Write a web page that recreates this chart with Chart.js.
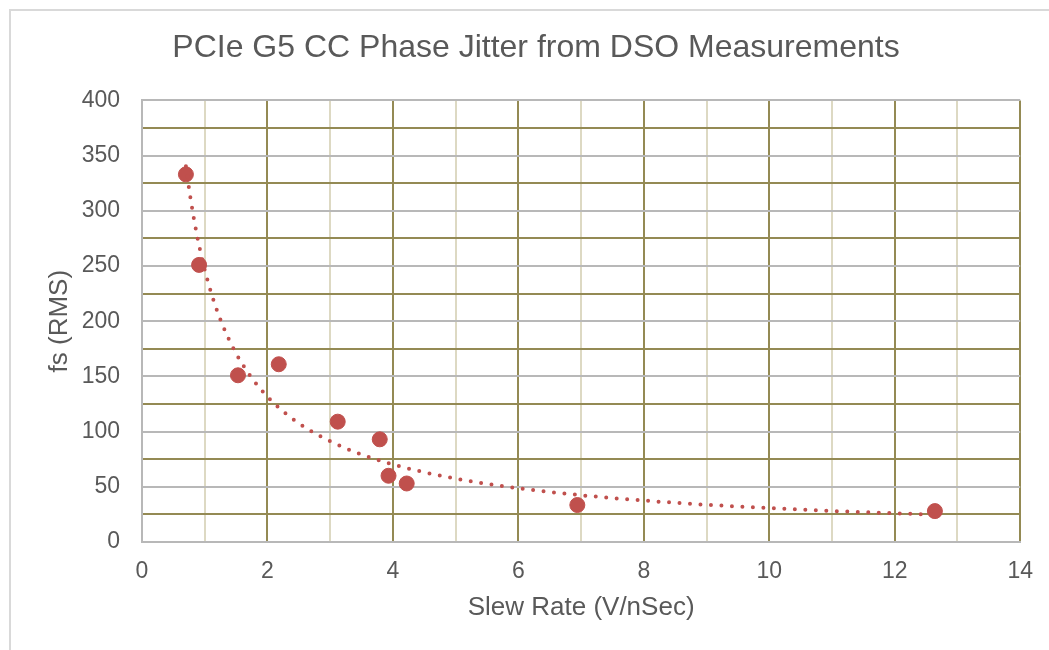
<!DOCTYPE html>
<html>
<head>
<meta charset="utf-8">
<script src="https://cdn.jsdelivr.net/npm/chart.js@4"></script>
<style>
  html, body { margin: 0; padding: 0; background: #fff; }
  #frame { position: absolute; left: 9px; top: 9px; width: 1100px; height: 700px;
           border-top: 2px solid #D9D9D9; border-left: 2px solid #D9D9D9; }
  #jitterChart { position: absolute; left: 0; top: 0; }
</style>
</head>
<body>
<div id="frame"></div>
<canvas id="jitterChart" width="1049" height="650"></canvas>
<script>
// measured points: slew rate (V/nSec) vs jitter fs (RMS)
const slewRate = [0.70, 0.91, 1.53, 2.18, 3.12, 3.79, 3.93, 4.22, 6.94, 12.64];
const jitterFs = [333, 251, 151, 161, 109, 93, 60, 53, 33.5, 28];

const xTicks = [0, 2, 4, 6, 8, 10, 12, 14];
const yTicks = [0, 50, 100, 150, 200, 250, 300, 350, 400];

const textColor = '#595959';
const olive = '#948A54';
const tan = '#DDD9C3';
const gray = '#B8B8B8';
const dotRed = '#C0504D';

// power trendline (least squares on ln x / ln y), like Excel's
const powerFit = (xs, ys) => {
    const lx = xs.map(Math.log), ly = ys.map(Math.log);
    const n = xs.length;
    const mx = lx.reduce((a, b) => a + b, 0) / n;
    const my = ly.reduce((a, b) => a + b, 0) / n;
    let sxy = 0, sxx = 0;
    for (let i = 0; i < n; i++) {
        sxy += (lx[i] - mx) * (ly[i] - my);
        sxx += (lx[i] - mx) * (lx[i] - mx);
    }
    const b = sxy / sxx;
    return { a: Math.exp(my - b * mx), b: b };
};

const fit = powerFit(slewRate, jitterFs);
const xMin = Math.min(...slewRate), xMax = Math.max(...slewRate);
const trend = [];
for (let i = 0; i <= 200; i++) {
    const x = xMin + (xMax - xMin) * i / 200;
    trend.push({ x: x, y: fit.a * Math.pow(x, fit.b) });
}

const points = slewRate.map((x, i) => ({ x: x, y: jitterFs[i] }));

new Chart(document.getElementById('jitterChart'), {
    type: 'scatter',
    data: {
        datasets: [{
            label: 'Trend',
            type: 'line',
            data: trend,
            borderColor: dotRed,
            borderWidth: 4,
            borderDash: [0, 10.5],
            borderCapStyle: 'round',
            pointRadius: 0,
            fill: false,
            tension: 0
        }, {
            label: 'fs (RMS)',
            data: points,
            backgroundColor: dotRed,
            borderColor: dotRed,
            pointRadius: 7.5,
            pointHoverRadius: 7.5
        }]
    },
    options: {
        responsive: false,
        animation: false,
        // left padding pushes the centred title right, like the original
        layout: { padding: { left: 51, right: 28, top: 0, bottom: 0 } },
        plugins: {
            legend: { display: false },
            tooltip: { enabled: false },
            title: {
                display: true,
                text: 'PCIe G5 CC Phase Jitter from DSO Measurements',
                color: textColor,
                font: { family: "'Liberation Sans', Arial, sans-serif", size: 32, weight: 'normal' },
                padding: { top: 29, bottom: 33 }
            }
        },
        scales: {
            x: {
                type: 'linear',
                min: 0,
                max: 14,
                afterFit: s => { s.height = 108; },
                ticks: {
                    stepSize: 1,
                    autoSkip: false,
                    maxRotation: 0,
                    padding: 16,
                    color: textColor,
                    font: { family: "'Liberation Sans', Arial, sans-serif", size: 23 },
                    callback: v => xTicks.includes(v) ? v : ''
                },
                grid: {
                    drawTicks: false,
                    color: ctx => ctx.tick && ctx.tick.value === 0 ? gray : (ctx.tick && ctx.tick.value % 2 === 0 ? olive : tan),
                    lineWidth: 2
                },
                border: { display: true, color: gray, width: 2 },
                title: {
                    display: true,
                    text: 'Slew Rate (V/nSec)',
                    color: textColor,
                    font: { family: "'Liberation Sans', Arial, sans-serif", size: 26 },
                    padding: { top: 0, bottom: 27 }
                }
            },
            y: {
                min: 0,
                max: 400,
                afterFit: s => { s.width = 91; },
                ticks: {
                    stepSize: 25,
                    autoSkip: false,
                    padding: 22,
                    color: textColor,
                    font: { family: "'Liberation Sans', Arial, sans-serif", size: 23 },
                    callback: v => yTicks.includes(v) ? v : ''
                },
                grid: {
                    drawTicks: false,
                    color: ctx => ctx.tick && ctx.tick.value % 50 === 0 ? gray : olive,
                    lineWidth: 2
                },
                border: { display: true, color: gray, width: 2 },
                title: {
                    display: true,
                    text: 'fs (RMS)',
                    color: textColor,
                    font: { family: "'Liberation Sans', Arial, sans-serif", size: 26 },
                    padding: { top: -7, bottom: 0 }
                }
            }
        }
    }
});
</script>
</body>
</html>
